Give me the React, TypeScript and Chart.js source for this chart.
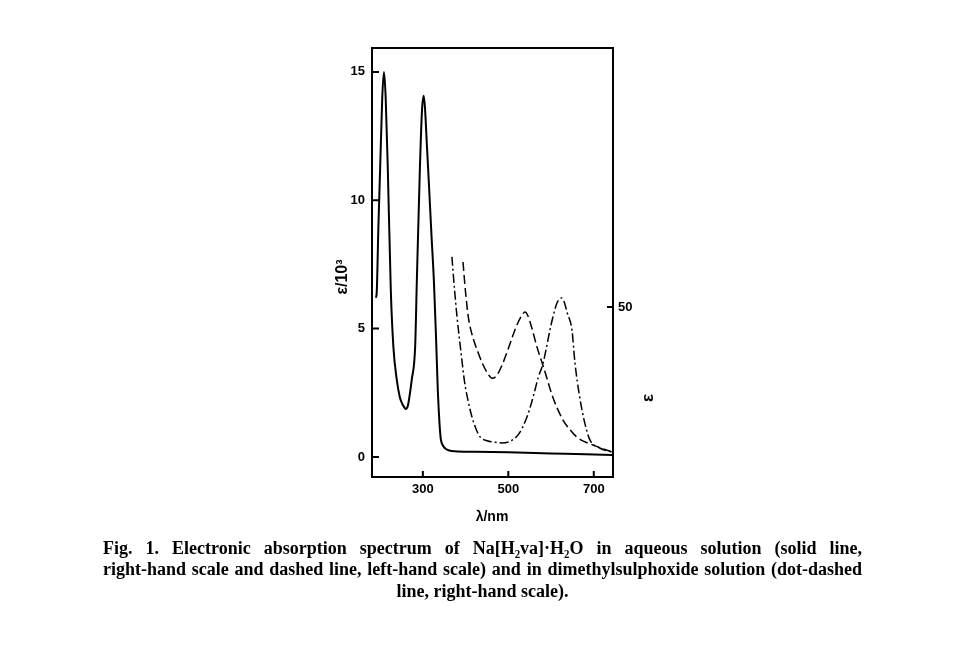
import React, { useEffect, useRef } from "react";
import { Chart, registerables } from "chart.js";

Chart.register(...registerables);

// Solid line (ε/10^3, left-hand scale)
const solidNm = [190, 192, 196, 200, 205, 209, 213, 218, 225, 231, 239, 246, 251, 256, 260, 265, 270, 274, 282, 286, 293, 298, 302, 305, 309, 314, 320, 326, 331, 335, 339, 342, 348, 355, 362, 375, 420, 500, 600, 680, 744];
const solidEps = [6.2, 6.4, 9.0, 11.2, 14.0, 15.0, 14.0, 11.2, 6.5, 4.3, 3.0, 2.34, 2.1, 1.95, 1.87, 2.0, 2.5, 3.0, 4.3, 6.9, 11.2, 13.5, 14.07, 13.6, 12.3, 10.7, 8.7, 6.8, 4.6, 2.6, 1.3, 0.7, 0.42, 0.3, 0.25, 0.22, 0.2, 0.18, 0.14, 0.11, 0.08];

// Dashed line (ε, right-hand scale)
const dashedNm = [394, 398, 402, 406, 412, 420, 427, 440, 452, 462, 472, 485, 499, 512, 525, 533, 539, 546, 555, 567, 583, 604, 628, 645, 660, 680, 698, 720, 742];
const dashedEps = [65, 58, 52, 47, 42.5, 38.5, 35.7, 31, 27.8, 26.2, 27, 30.5, 35.7, 41, 45.5, 47.5, 48.3, 47, 43, 36.7, 29.7, 20, 12.3, 9, 6.7, 5, 4, 2.8, 1.7];

// Dot-dashed line (ε, right-hand scale)
const dotNm = [368, 374, 380, 390, 398, 407, 415, 424, 434, 450, 470, 485, 500, 515, 527, 540, 550, 560, 570, 581, 590, 597, 605, 613, 620, 625, 630, 638, 649, 656, 667, 679, 691, 714, 742];
const dotEps = [66.7, 56, 46.7, 34, 24.7, 18, 13.3, 9.5, 6.7, 5.4, 4.9, 4.7, 5.0, 6.2, 8.2, 12, 16, 21, 26.5, 31, 37, 42, 47, 51, 52.7, 53, 52, 48, 42.3, 31.3, 20, 11.3, 5.7, 3, 1.7];

const xTicks = [300, 500, 700];
const leftTicks = [0, 5, 10, 15];
const rightTicks = [50];

const leftTitle = "ε/10³";
const rightTitle = "ε";
const xTitle = "λ/nm";

const captionLines = [
  "Fig. 1. Electronic absorption spectrum of Na[H₂va]·H₂O in aqueous solution (solid line,",
  "right-hand scale and dashed line, left-hand scale) and in dimethylsulphoxide solution (dot-dashed",
  "line, right-hand scale).",
];

const toPts = (xs: number[], ys: number[]) => xs.map((x, i) => ({ x, y: ys[i] }));

const framePlugin = {
  id: "frame",
  afterDraw(chart: any) {
    const { ctx, chartArea: a, scales } = chart;
    ctx.save();
    ctx.strokeStyle = "#000";
    ctx.lineWidth = 2;
    ctx.strokeRect(a.left, a.top, a.right - a.left, a.bottom - a.top);
    ctx.beginPath();
    leftTicks.forEach((v) => {
      const y = scales.y.getPixelForValue(v);
      ctx.moveTo(a.left, y);
      ctx.lineTo(a.left + 7, y);
    });
    rightTicks.forEach((v) => {
      const y = scales.y2.getPixelForValue(v);
      ctx.moveTo(a.right, y);
      ctx.lineTo(a.right - 6, y);
    });
    xTicks.forEach((v) => {
      const x = scales.x.getPixelForValue(v);
      ctx.moveTo(x, a.bottom);
      ctx.lineTo(x, a.bottom - 6);
    });
    ctx.stroke();

    ctx.fillStyle = "#000";
    ctx.textAlign = "center";
    ctx.textBaseline = "middle";
    ctx.font = "bold 16px 'Liberation Sans', Arial, sans-serif";
    ctx.save();
    ctx.translate(335, 269);
    ctx.rotate(-Math.PI / 2);
    ctx.fillText(leftTitle, 0, 0);
    ctx.restore();
    ctx.save();
    ctx.translate(640, 390);
    ctx.rotate(-Math.PI / 2);
    ctx.font = "bold 17px 'Liberation Sans', Arial, sans-serif";
    ctx.fillText(rightTitle, 0, 0);
    ctx.restore();
    ctx.font = "bold 14px 'Liberation Sans', Arial, sans-serif";
    ctx.fillText(xTitle, 484, 509);
    ctx.restore();
  },
};

export default function App() {
  const ref = useRef<HTMLCanvasElement | null>(null);
  useEffect(() => {
    if (!ref.current) return;
    const tickFont = { family: "'Liberation Sans', Arial, sans-serif", size: 13, weight: "bold" as const };
    const chart = new Chart(ref.current, {
      type: "line",
      data: {
        datasets: [
          {
            data: toPts(solidNm, solidEps),
            yAxisID: "y",
            borderColor: "#000",
            borderWidth: 2,
            pointRadius: 0,
            cubicInterpolationMode: "monotone",
            fill: false,
          },
          {
            data: toPts(dashedNm, dashedEps),
            yAxisID: "y2",
            borderColor: "#000",
            borderWidth: 1.5,
            borderDash: [9, 4],
            pointRadius: 0,
            cubicInterpolationMode: "monotone",
            fill: false,
          },
          {
            data: toPts(dotNm, dotEps),
            yAxisID: "y2",
            borderColor: "#000",
            borderWidth: 1.5,
            borderDash: [9, 3, 2, 3],
            pointRadius: 0,
            cubicInterpolationMode: "monotone",
            fill: false,
          },
        ],
      },
      options: {
        responsive: false,
        animation: false,
        layout: { padding: { top: 40, left: 0, right: 0, bottom: 0 } },
        plugins: { legend: { display: false }, tooltip: { enabled: false } },
        scales: {
          x: {
            type: "linear",
            min: 181,
            max: 745,
            afterBuildTicks: (s: any) => { s.ticks = xTicks.map((v) => ({ value: v })); },
            afterFit: (s: any) => { s.height = 61; },
            grid: { display: false, drawTicks: false },
            border: { display: false },
            ticks: { color: "#000", font: tickFont, padding: 5, maxRotation: 0 },
          },
          y: {
            type: "linear",
            position: "left",
            min: -0.78,
            max: 15.93,
            afterBuildTicks: (s: any) => { s.ticks = leftTicks.map((v) => ({ value: v })); },
            afterFit: (s: any) => { s.width = 364; },
            grid: { display: false, drawTicks: false },
            border: { display: false },
            ticks: { color: "#000", font: tickFont, padding: 7 },
          },
          y2: {
            type: "linear",
            position: "right",
            min: -6.67,
            max: 136.3,
            afterBuildTicks: (s: any) => { s.ticks = rightTicks.map((v) => ({ value: v })); },
            afterFit: (s: any) => { s.width = 345; },
            grid: { display: false, drawTicks: false },
            border: { display: false },
            ticks: { color: "#000", font: tickFont, padding: 5 },
          },
        },
      },
      plugins: [framePlugin],
    } as any);
    return () => chart.destroy();
  }, []);

  const capStyle: React.CSSProperties = {
    position: "absolute",
    left: 95,
    width: 759,
    fontFamily: "'Liberation Serif', 'Times New Roman', serif",
    fontWeight: "bold",
    fontSize: 18,
    lineHeight: "22px",
    color: "#000",
    whiteSpace: "nowrap",
  };

  return (
    <div style={{ position: "relative", width: 950, height: 600 }}>
      <canvas ref={ref} width={950} height={530} style={{ position: "absolute", left: 0, top: 0 }} />
      <div style={{ ...capStyle, top: 529, textAlign: "justify", textAlignLast: "justify" as any }}>
        {captionLines[0]}
      </div>
      <div style={{ ...capStyle, top: 550, textAlign: "justify", textAlignLast: "justify" as any }}>
        {captionLines[1]}
      </div>
      <div style={{ ...capStyle, top: 572, textAlign: "center" }}>{captionLines[2]}</div>
    </div>
  );
}
